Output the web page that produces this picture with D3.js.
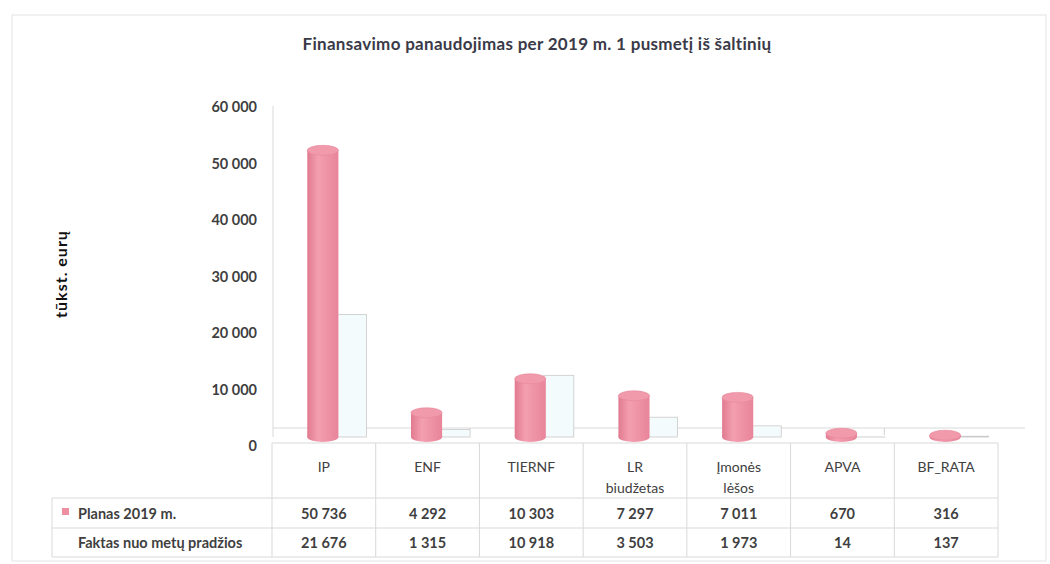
<!DOCTYPE html>
<html>
<head>
<meta charset="utf-8">
<script src="https://cdnjs.cloudflare.com/ajax/libs/d3/7.8.5/d3.min.js"></script>
<style>
  body { margin: 0; background: #fff; }
  svg text { font-family: Lato, "Open Sans", sans-serif; }
</style>
</head>
<body>
<div id="chart"></div>
<script>
// data
const categories = ["IP", "ENF", "TIERNF", "LR biudžetas", "Įmonės lėšos", "APVA", "BF_RATA"];
const catLines = [["IP"], ["ENF"], ["TIERNF"], ["LR", "biudžetas"], ["Įmonės", "lėšos"], ["APVA"], ["BF_RATA"]];
const planas = [50736, 4292, 10303, 7297, 7011, 670, 316];
const faktas = [21676, 1315, 10918, 3503, 1973, 14, 137];
const seriesNames = ["Planas 2019 m.", "Faktas nuo metų pradžios"];
const yTicks = [0, 10000, 20000, 30000, 40000, 50000, 60000];

const W = 1050, H = 564;
const pink = "#ee8ea1";
const grid = "#d9d9d9";
const depth = 9;   // 3d offset between back wall and front labels

const svg = d3.select("#chart").append("svg")
  .attr("width", W).attr("height", H);

const defs = svg.append("defs");
const grad = defs.append("linearGradient").attr("id", "cyl")
  .attr("x1", "0%").attr("x2", "100%").attr("y1", "0%").attr("y2", "0%");
grad.append("stop").attr("offset", "0%").attr("stop-color", "#e17a8f");
grad.append("stop").attr("offset", "35%").attr("stop-color", "#f39fb0");
grad.append("stop").attr("offset", "100%").attr("stop-color", "#e8849a");

// outer border
svg.append("rect").attr("x", 12).attr("y", 15).attr("width", 1034).attr("height", 546)
  .attr("fill", "none").attr("stroke", "#e4e4e4");

// title
svg.append("text").attr("x", 537).attr("y", 50).attr("text-anchor", "middle")
  .attr("font-size", 17).attr("font-weight", 700).attr("fill", "#3a3a48")
  .attr("letter-spacing", 0.3)
  .text("Finansavimo panaudojimas per 2019 m. 1 pusmetį iš šaltinių");

// scales
const x = d3.scaleBand().domain(categories).range([272, 998]);
const bw = x.bandwidth();
const y = d3.scaleLinear().domain([0, 60000]).range([437, 98]);

const fmt = v => d3.format(",")(v).replace(/,/g, " ");

// y axis labels
const yAxis = d3.axisLeft(y).tickValues(yTicks).tickFormat(fmt).tickSize(0).tickPadding(0);
const ya = svg.append("g").attr("transform", `translate(257,${depth})`).call(yAxis);
ya.select(".domain").remove();
ya.selectAll("text").attr("font-size", 14.5).attr("font-weight", 700).attr("fill", "#3f3f3f")
  .attr("font-family", "Lato, sans-serif");

// y title
svg.append("text").attr("transform", "translate(67,274) rotate(-90)")
  .attr("text-anchor", "middle").attr("font-size", 16).attr("font-weight", 700).attr("fill", "#111")
  .attr("letter-spacing", 1)
  .text("tūkst. eurų");

// back wall edge and floor
svg.append("line").attr("x1", 273).attr("x2", 273).attr("y1", y(60000) + 8).attr("y2", 437)
  .attr("stroke", grid);
svg.append("line").attr("x1", 273).attr("x2", 1025).attr("y1", y(0) - depth).attr("y2", y(0) - depth)
  .attr("stroke", grid);
svg.selectAll(".btick").data(categories.slice(1)).enter().append("line")
  .attr("x1", d => x(d) - 10).attr("x2", d => x(d) - 10)
  .attr("y1", y(0) - depth).attr("y2", y(0) - 2).attr("stroke", "#cfcfcf");

// faktas boxes (behind)
const g = svg.selectAll(".cat").data(categories).enter().append("g");
g.append("rect")
  .attr("x", d => x(d) + bw * 0.62)
  .attr("width", bw * 0.29)
  .attr("y", (d, i) => y(faktas[i]))
  .attr("height", (d, i) => y(0) - y(faktas[i]))
  .attr("fill", "#f4fbfc").attr("stroke", "#c9c9c9").attr("stroke-width", 0.8);

// planas cylinders
const cw = bw * 0.30, ry = 5;
g.append("ellipse")
  .attr("cx", d => x(d) + bw * 0.34 + cw / 2).attr("cy", y(0))
  .attr("rx", cw / 2).attr("ry", ry).attr("fill", "url(#cyl)");
g.append("rect")
  .attr("x", d => x(d) + bw * 0.34).attr("width", cw)
  .attr("y", (d, i) => y(planas[i]))
  .attr("height", (d, i) => y(0) - y(planas[i]))
  .attr("fill", "url(#cyl)");
g.append("ellipse")
  .attr("cx", d => x(d) + bw * 0.34 + cw / 2).attr("cy", (d, i) => y(planas[i]))
  .attr("rx", cw / 2).attr("ry", ry).attr("fill", "#f09aab").attr("stroke", "#e7879b").attr("stroke-width", 0.6);

// data table
const rowY = [443, 498, 528, 557];
const tbl = svg.append("g").attr("stroke", grid).attr("stroke-width", 1);
tbl.append("line").attr("x1", 272).attr("x2", 998).attr("y1", rowY[0]).attr("y2", rowY[0]);
rowY.slice(1).forEach(ry2 => {
  tbl.append("line").attr("x1", 52).attr("x2", 998).attr("y1", ry2).attr("y2", ry2);
});
categories.concat([null]).forEach((c, i) => {
  const xx = c ? x(c) : x.range()[1];
  tbl.append("line").attr("x1", xx).attr("x2", xx).attr("y1", rowY[0]).attr("y2", rowY[3]);
});
tbl.append("line").attr("x1", 52).attr("x2", 52).attr("y1", rowY[1]).attr("y2", rowY[3]);

// category labels
const cl = svg.selectAll(".cl").data(categories).enter().append("text")
  .attr("x", d => x(d) + bw / 2).attr("y", 472)
  .attr("text-anchor", "middle").attr("font-size", 14).attr("fill", "#404040");
cl.selectAll("tspan").data((d, i) => catLines[i]).enter().append("tspan")
  .attr("x", function() { return d3.select(this.parentNode).attr("x"); })
  .attr("dy", (d, i) => i ? 21 : 0).text(d => d);

// legend rows
svg.append("rect").attr("x", 62).attr("y", 508).attr("width", 7).attr("height", 7).attr("fill", pink);
[planas, faktas].forEach((vals, r) => {
  const by = r ? 548 : 519;
  svg.append("text").attr("x", 78).attr("y", by)
    .attr("font-size", 14.5).attr("font-weight", 700).attr("fill", "#3f3f3f").text(seriesNames[r]);
  svg.selectAll(".v" + r).data(vals).enter().append("text")
    .attr("x", (d, i) => x(categories[i]) + bw / 2).attr("y", by)
    .attr("text-anchor", "middle").attr("font-size", 14.5).attr("font-weight", 700).attr("fill", "#3f3f3f")
    .text(d => fmt(d));
});
</script>
</body>
</html>
